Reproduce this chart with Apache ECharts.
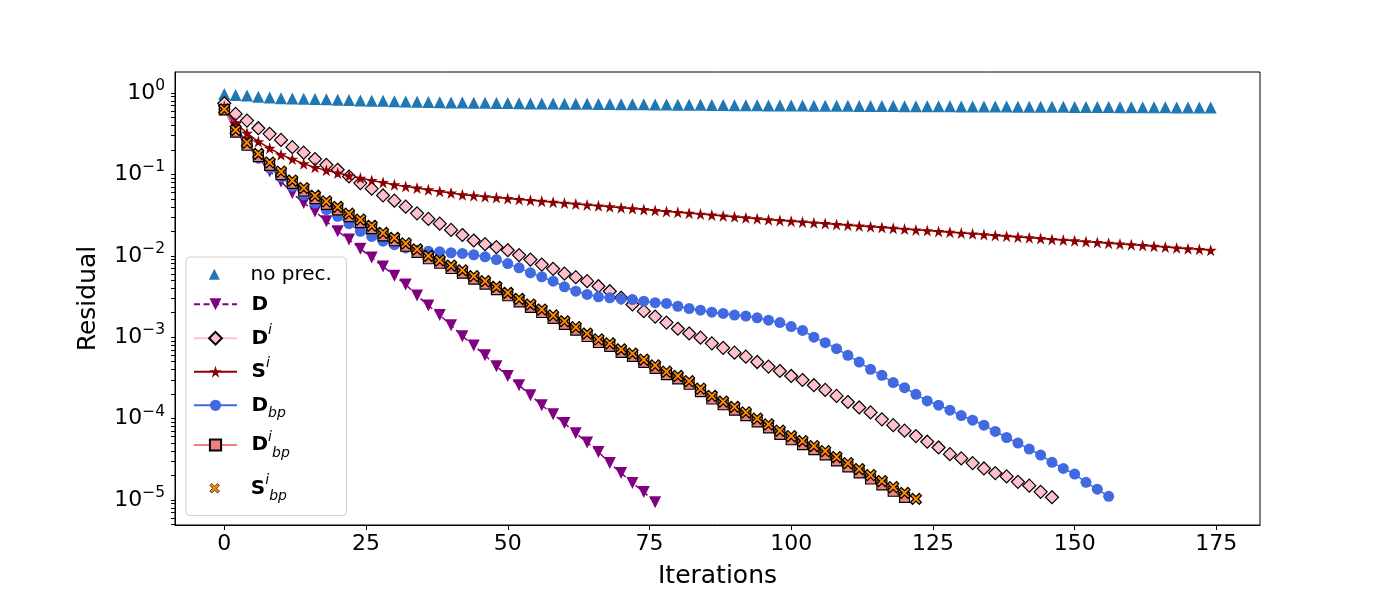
<!DOCTYPE html>
<html><head><meta charset="utf-8">
<script src="https://cdn.jsdelivr.net/npm/echarts@6/dist/echarts.min.js"></script>
<style>html,body{margin:0;padding:0;background:#fff}#c{width:1400px;height:600px}</style>
</head><body><div id="c"></div>
<script>
const STEP = 2; // iteration spacing between recorded residuals

const noPrec = [0.97,0.945,0.93,0.90,0.88,0.86,0.855,0.85,0.845,0.835,
0.825,0.82,0.81,0.805,0.80,0.79,0.785,0.78,0.775,0.77,
0.765,0.762,0.76,0.757,0.754,0.751,0.748,0.745,0.743,0.741,
0.739,0.737,0.735,0.733,0.731,0.729,0.727,0.725,0.723,0.721,
0.719,0.717,0.715,0.713,0.711,0.709,0.707,0.705,0.704,0.703,
0.702,0.700,0.698,0.697,0.696,0.695,0.694,0.692,0.691,0.690,
0.689,0.688,0.687,0.686,0.685,0.684,0.683,0.682,0.681,0.680,
0.679,0.678,0.677,0.676,0.675,0.674,0.673,0.672,0.671,0.670,
0.669,0.668,0.667,0.666,0.665,0.664,0.663,0.662];

const precD = [0.65,0.38,0.245,0.16,0.109,0.082,0.059,0.0445,0.0351,0.0265,
0.0200,0.0158,0.0122,0.0095,0.0074,0.0057,0.00444,0.00325,0.00245,0.00187,
0.00140,0.00103,7.9e-4,6.0e-4,4.39e-4,3.34e-4,2.57e-4,1.94e-4,1.46e-4,1.13e-4,
8.8e-5,6.6e-5,5.1e-5,3.9e-5,2.84e-5,2.14e-5,1.62e-5,1.25e-5,9.4e-6];

const precDi = [0.748,0.553,0.458,0.369,0.315,0.265,0.216,0.185,0.154,0.131,
0.114,0.0942,0.0782,0.0667,0.0551,0.0475,0.0401,0.0332,0.0284,0.0248,
0.0208,0.0180,0.0154,0.0139,0.0128,0.0117,0.0102,0.00898,0.00780,0.00691,
0.00605,0.00546,0.00488,0.00423,0.00367,0.00305,0.00252,0.00209,0.00179,0.00151,
0.00127,0.00111,9.86e-4,8.4e-4,7.4e-4,6.46e-4,5.77e-4,4.95e-4,4.35e-4,3.84e-4,
3.34e-4,2.98e-4,2.57e-4,2.25e-4,1.90e-4,1.60e-4,1.37e-4,1.19e-4,9.8e-5,8.3e-5,
7.1e-5,6.1e-5,5.2e-5,4.42e-5,3.66e-5,3.24e-5,2.84e-5,2.44e-5,2.14e-5,1.95e-5,
1.67e-5,1.50e-5,1.26e-5,1.08e-5];

const precSi = [0.68,0.425,0.321,0.253,0.210,0.174,0.154,0.135,0.122,0.112,
0.104,0.0961,0.0901,0.0842,0.0796,0.0746,0.0711,0.0680,0.0648,0.0617,
0.0590,0.0562,0.0547,0.0533,0.0519,0.0506,0.0493,0.0480,0.0468,0.0456,
0.0444,0.0433,0.0422,0.0411,0.0400,0.0390,0.0380,0.0370,0.0361,0.0351,
0.0342,0.0334,0.0325,0.0317,0.0309,0.0301,0.0293,0.0286,0.0278,0.0272,
0.0266,0.0260,0.0254,0.0249,0.0243,0.0238,0.0233,0.0228,0.0223,0.0218,
0.0213,0.0208,0.0204,0.0199,0.0195,0.0190,0.0186,0.0182,0.0178,0.0174,
0.0170,0.0167,0.0163,0.0159,0.0156,0.0153,0.0149,0.0146,0.0143,0.0140,
0.0137,0.0134,0.0131,0.0128,0.0125,0.0122,0.0120,0.0117];

const precDbp = [0.63,0.34,0.23,0.158,0.119,0.0927,0.0711,0.0562,0.0445,0.0368,
0.0305,0.0248,0.0200,0.0173,0.0151,0.0137,0.0125,0.0117,0.0114,0.0112,
0.0109,0.0107,0.0103,0.00970,0.00898,0.00802,0.00711,0.00617,0.00551,0.00487,
0.00416,0.00367,0.00335,0.00313,0.00305,0.00296,0.00290,0.00277,0.00265,0.00260,
0.00240,0.00225,0.00215,0.00203,0.00196,0.00187,0.00182,0.00173,0.00162,0.00151,
0.00135,0.00121,0.00100,8.57e-4,7.23e-4,5.98e-4,4.95e-4,4.03e-4,3.40e-4,2.77e-4,
2.40e-4,1.99e-4,1.65e-4,1.46e-4,1.27e-4,1.09e-4,9.55e-5,8.3e-5,6.95e-5,5.86e-5,
5.0e-5,4.22e-5,3.56e-5,2.90e-5,2.44e-5,2.08e-5,1.65e-5,1.36e-5,1.11e-5];

const precDiBp = [0.62,0.33,0.228,0.165,0.129,0.0995,0.0775,0.0625,0.0503,0.0429,
0.0366,0.0303,0.0256,0.0215,0.0176,0.0153,0.0131,0.0110,0.0092,0.0081,
0.00698,0.00611,0.00516,0.00448,0.00383,0.00323,0.00272,0.00232,0.00201,0.00170,
0.00144,0.00122,0.00102,8.6e-4,7.7e-4,6.5e-4,5.8e-4,4.9e-4,4.15e-4,3.47e-4,
3.07e-4,2.64e-4,2.14e-4,1.74e-4,1.48e-4,1.27e-4,1.09e-4,9.1e-5,7.7e-5,6.4e-5,
5.5e-5,4.8e-5,4.15e-5,3.58e-5,3.03e-5,2.55e-5,2.15e-5,1.81e-5,1.53e-5,1.28e-5,
1.08e-5];

const precSiBp = [0.63,0.352,0.246,0.179,0.140,0.108,0.084,0.068,0.0547,0.0466,
0.0398,0.0329,0.0278,0.0234,0.0191,0.0166,0.0142,0.0120,0.0100,0.00879,
0.00759,0.00664,0.00561,0.00487,0.00416,0.00351,0.00296,0.00252,0.00219,0.00185,
0.00157,0.00133,0.00111,9.4e-4,8.4e-4,7.1e-4,6.3e-4,5.3e-4,4.51e-4,3.77e-4,
3.34e-4,2.88e-4,2.33e-4,1.90e-4,1.62e-4,1.39e-4,1.19e-4,1.00e-4,8.5e-5,7.1e-5,
6.1e-5,5.3e-5,4.6e-5,3.98e-5,3.37e-5,2.84e-5,2.40e-5,2.02e-5,1.71e-5,1.44e-5,
1.22e-5,1.03e-5];

const xTicks = [0, 25, 50, 75, 100, 125, 150, 175];
const yTicks = [1e-5, 1e-4, 1e-3, 1e-2, 1e-1, 1];
const yMinorTicks = [];
for (let e = -6; e <= 0; e++) for (let k = 2; k <= 9; k++) {
  const v = +(k * Math.pow(10, e)).toPrecision(3);
  if (v > 4.93e-6 && v < 1.81) yMinorTicks.push(v);
}
const yAllTicks = yTicks.concat(yMinorTicks).sort((a, b) => a - b);

const FONT = 'DejaVu Sans';
const STAR = 'path://M50,0L61.2,34.5L97.6,34.5L68.2,55.9L79.4,90.5L50,69.1L20.6,90.5L31.8,55.9L2.4,34.5L38.8,34.5Z';
const XMARK = 'path://M2,0L5,3L8,0L10,2L7,5L10,8L8,10L5,7L2,10L0,8L3,5L0,2Z';

function pts(arr) { return arr.map((v, i) => [i * STEP, v]); }

const labelMap = {
  'no prec.': '{sp| }{n|no prec.}',
  'D': '{sp| }{b|D}',
  'D^i': '{sp| }{b|D}{sup|i}',
  'S^i': '{sp| }{b|S}{sup|i}',
  'D_bp': '{sp| }{b|D}{sub|bp}',
  'D^i_bp': '{sp| }{b|D}{sup|i}{sub|bp}',
  'S^i_bp': '{sp| }{b|S}{sup|i}{sub|bp}'
};
function legendText(spw) {
  return {
    fontFamily: FONT, color: '#000', fontSize: 20,
    rich: {
      sp: { width: spw, fontSize: 10, lineHeight: 30 },
      n: { fontSize: 20, lineHeight: 30, fontFamily: FONT, color: '#000' },
      b: { fontSize: 20, lineHeight: 30, fontWeight: 'bold', fontFamily: FONT, color: '#000' },
      sup: { fontSize: 14, lineHeight: 18, fontStyle: 'italic', verticalAlign: 'top', fontFamily: FONT, color: '#000' },
      sub: { fontSize: 14, lineHeight: 16, fontStyle: 'italic', verticalAlign: 'bottom', fontFamily: FONT, color: '#000' }
    }
  };
}
// dy: empirical layout offset for labels without a superscript token
const legRows = [
  { name: 'no prec.', cy: 273.3, scatter: true, w: 11, dy: 6 },
  { name: 'D', cy: 303.3, h: 15, dy: 6 },
  { name: 'D^i', cy: 338.3, h: 16, dy: 0 },
  { name: 'S^i', cy: 371.7, h: 15, dy: 0 },
  { name: 'D_bp', cy: 404.3, h: 14, dy: 6 },
  { name: 'D^i_bp', cy: 445, h: 14, dy: 0 },
  { name: 'S^i_bp', cy: 488.3, scatter: true, w: 9.5, dy: 0, bw: 0.7 }
];
const legends = legRows.map(r => {
  const iw = r.scatter ? r.w : 43;
  const ih = r.scatter ? r.w : r.h;
  const left = r.scatter ? 214.3 - r.w / 2 : 193;
  const textStart = left + iw + 5;
  const lg = {
    data: [r.name], left: left, top: r.cy - 15 + r.dy, padding: 0, orient: 'vertical',
    itemWidth: iw, itemHeight: ih, selectedMode: false,
    formatter: n => labelMap[n],
    textStyle: legendText(250.5 - textStart)
  };
  if (r.bw) lg.itemStyle = { borderWidth: r.bw };
  return lg;
});

const common = { animation: false, emphasis: { disabled: true }, z: 2 };
const series = [
  Object.assign({ name: 'no prec.', type: 'scatter', data: pts(noPrec), symbol: 'triangle', symbolSize: 12,
    itemStyle: { color: '#1f77b4', opacity: 1 } }, common),
  Object.assign({ name: 'D', type: 'line', data: pts(precD), symbol: 'triangle', symbolRotate: 180, symbolSize: 12,
    showSymbol: true, showAllSymbol: true,
    lineStyle: { color: '#800080', width: 1.5, type: [6, 3.5] }, itemStyle: { color: '#800080' } }, common),
  Object.assign({ name: 'D^i', type: 'line', data: pts(precDi), symbol: 'diamond', symbolSize: 13,
    showSymbol: true, showAllSymbol: true,
    lineStyle: { color: '#ffc0cb', width: 1.5 }, itemStyle: { color: '#ffc0cb', borderColor: '#000', borderWidth: 1.2 } }, common),
  Object.assign({ name: 'S^i', type: 'line', data: pts(precSi), symbol: STAR, symbolSize: 12,
    showSymbol: true, showAllSymbol: true,
    lineStyle: { color: '#8b0000', width: 1.5 }, itemStyle: { color: '#8b0000' } }, common),
  Object.assign({ name: 'D_bp', type: 'line', data: pts(precDbp), symbol: 'circle', symbolSize: 11,
    showSymbol: true, showAllSymbol: true,
    lineStyle: { color: '#4169e1', width: 1.5 }, itemStyle: { color: '#4169e1' } }, common),
  Object.assign({ name: 'D^i_bp', type: 'line', data: pts(precDiBp), symbol: 'rect', symbolSize: 10,
    showSymbol: true, showAllSymbol: true,
    lineStyle: { color: '#f08080', width: 1.5 }, itemStyle: { color: '#f08080', borderColor: '#000', borderWidth: 1.2 } }, common),
  Object.assign({ name: 'S^i_bp', type: 'scatter', data: pts(precSiBp), symbol: XMARK, symbolSize: 11,
    itemStyle: { color: '#ff8c00', borderColor: '#000', borderWidth: 1.2, opacity: 1 } }, common)
];

const chart = echarts.init(document.getElementById('c'), null, { renderer: 'canvas' });
chart.setOption({
  animation: false,
  backgroundColor: '#fff',
  textStyle: { fontFamily: FONT },
  grid: { left: 175, right: 140, top: 72, bottom: 75, show: true, borderColor: '#000', borderWidth: 1, backgroundColor: 'transparent' },
  legend: legends,
  graphic: [{
    type: 'rect', z: 3, left: 185.5, top: 256.5,
    shape: { width: 160.5, height: 258.5, r: 4 },
    style: { fill: 'rgba(255,255,255,0.8)', stroke: '#d0d0d0', lineWidth: 1 }
  }],
  xAxis: {
    type: 'value', min: -8.7, max: 182.7,
    name: 'Iterations', nameLocation: 'middle', nameGap: 39,
    nameTextStyle: { fontSize: 25, color: '#000', fontFamily: FONT },
    axisLine: { show: true, onZero: false, lineStyle: { color: '#000', width: 1 } },
    axisTick: { show: true, length: 5, lineStyle: { color: '#000' }, customValues: xTicks },
    axisLabel: { fontSize: 22, color: '#000', margin: 8, fontFamily: FONT, customValues: xTicks },
    splitLine: { show: false }
  },
  yAxis: {
    type: 'log', logBase: 10, min: 4.93e-6, max: 1.81,
    name: 'Residual', nameLocation: 'middle', nameGap: 74,
    nameTextStyle: { fontSize: 25, color: '#000', fontFamily: FONT },
    axisLine: { show: true, onZero: false, lineStyle: { color: '#000', width: 1 } },
    axisTick: { show: true, length: 4, lineStyle: { color: '#000' }, customValues: yAllTicks },
    axisLabel: {
      color: '#000', margin: 10, customValues: yTicks,
      formatter: v => {
        const e = Math.round(Math.log10(v));
        return '{b|10}{s|' + (e < 0 ? '\u2212' + (-e) : e) + '}';
      },
      rich: {
        b: { fontSize: 22, lineHeight: 30, fontFamily: FONT, color: '#000' },
        s: { fontSize: 15.5, lineHeight: 19, verticalAlign: 'top', fontFamily: FONT, color: '#000' }
      }
    },
    splitLine: { show: false }
  },
  series: series
});
</script>
</body></html>
